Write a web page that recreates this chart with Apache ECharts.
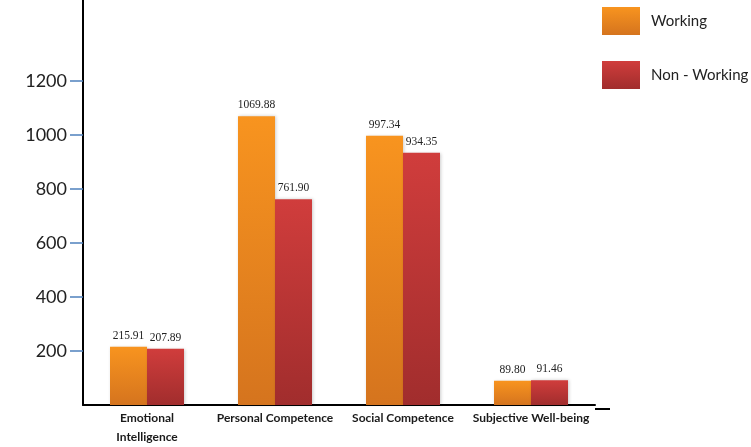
<!DOCTYPE html>
<html>
<head>
<meta charset="utf-8">
<script src="https://cdn.jsdelivr.net/npm/echarts@6/dist/echarts.min.js"></script>
<style>
  html, body { margin: 0; padding: 0; background: #fff; }
  #chart { width: 751px; height: 447px; }
</style>
</head>
<body>
<div id="chart"></div>
<script>
// Category names and the two groups of scores
const categories = ['Emotional\nIntelligence', 'Personal Competence', 'Social Competence', 'Subjective Well-being'];
const working = [215.91, 1069.88, 997.34, 89.80];
const nonWorking = [207.89, 761.90, 934.35, 91.46];
const yTicks = [200, 400, 600, 800, 1000, 1200];

const orange = new echarts.graphic.LinearGradient(0, 0, 0, 1, [
  { offset: 0, color: '#F8941F' },
  { offset: 1, color: '#D5741E' }
]);
const red = new echarts.graphic.LinearGradient(0, 0, 0, 1, [
  { offset: 0, color: '#D03D3C' },
  { offset: 1, color: '#A12D2D' }
]);

const labelStyle = {
  show: true,
  position: 'top',
  distance: 5,
  fontFamily: 'Liberation Serif',
  fontSize: 11.5,
  color: '#222',
  formatter: p => p.value.toFixed(2)
};

const chart = echarts.init(document.getElementById('chart'));
chart.setOption({
  animation: false,
  backgroundColor: '#fff',
  grid: { left: 83, top: 0, width: 512, bottom: 38 },
  legend: {
    orient: 'vertical',
    left: 602,
    top: 7,
    padding: 0,
    itemWidth: 38,
    itemHeight: 28,
    itemGap: 26,
    icon: 'rect',
    textStyle: { fontFamily: 'Lato', fontSize: 15, color: '#222', padding: [0, 0, 7, 6] },
    data: ['Working', 'Non - Working']
  },
  xAxis: {
    type: 'category',
    data: categories,
    axisLine: { lineStyle: { color: '#000', width: 2 } },
    axisTick: { show: false },
    axisLabel: {
      interval: 0,
      margin: 4,
      fontFamily: 'Lato',
      fontWeight: 'bold',
      fontSize: 12,
      lineHeight: 19,
      color: '#1a1a1a'
    }
  },
  yAxis: {
    type: 'value',
    min: 0,
    max: 1500,
    interval: 100,
    splitLine: { show: false },
    axisLine: { show: true, lineStyle: { color: '#000', width: 2 } },
    axisTick: {
      show: true,
      length: 13,
      customValues: yTicks,
      lineStyle: { color: '#4F81BD', width: 1.5 }
    },
    axisLabel: {
      customValues: yTicks,
      margin: 16,
      fontFamily: 'Lato',
      fontSize: 18,
      color: '#222',
      formatter: v => String(v)
    }
  },
  graphic: [
    {
      type: 'line',
      shape: { x1: 595, y1: 409, x2: 610, y2: 409 },
      style: { stroke: '#000', lineWidth: 2 }
    }
  ],
  series: [
    {
      name: 'Working',
      type: 'bar',
      data: working,
      barWidth: 37,
      barGap: '0%',
      itemStyle: { color: orange, shadowColor: 'rgba(0,0,0,0.2)', shadowBlur: 3, shadowOffsetX: 1 },
      label: labelStyle
    },
    {
      name: 'Non - Working',
      type: 'bar',
      data: nonWorking,
      barWidth: 37,
      barGap: '0%',
      itemStyle: { color: red, shadowColor: 'rgba(0,0,0,0.2)', shadowBlur: 3, shadowOffsetX: 1 },
      label: labelStyle
    }
  ]
});
</script>
</body>
</html>
